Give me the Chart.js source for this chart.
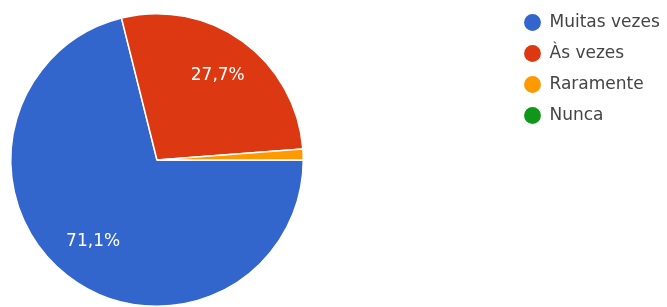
<!DOCTYPE html>
<html>
<head>
<meta charset="utf-8">
<script src="https://cdn.jsdelivr.net/npm/chart.js@4/dist/chart.umd.min.js"></script>
<style>
  html, body { margin: 0; padding: 0; background: #fff; }
  #wrap { width: 667px; height: 307px; position: relative; }
</style>
</head>
<body>
<div id="wrap"><canvas id="answers-pie-chart"></canvas></div>
<script>
// answers pie chart

const categories = ["Muitas vezes", "Às vezes", "Raramente", "Nunca"];
const percentages = [71.1, 27.7, 1.2, 0];
const sliceColors = ["#3366cc", "#dc3912", "#ff9900", "#109618"];

// slice labels ("27,7%") drawn at ~0.7 of the radius, like google forms
const sliceLabels = {
  id: 'sliceLabels',
  afterDatasetsDraw(chart) {
    const ctx = chart.ctx;
    const meta = chart.getDatasetMeta(0);
    const data = chart.data.datasets[0].data;
    ctx.save();
    ctx.fillStyle = '#ffffff';
    ctx.font = '17px "DejaVu Sans", sans-serif';
    ctx.textAlign = 'center';
    ctx.textBaseline = 'middle';
    meta.data.forEach((arc, i) => {
      if (data[i] < 5) return;
      const p = arc.getProps(['x', 'y', 'startAngle', 'endAngle', 'outerRadius']);
      const mid = (p.startAngle + p.endAngle) / 2;
      const r = p.outerRadius * 0.71;
      ctx.fillText(data[i].toFixed(1).replace('.', ',') + '%', p.x + Math.cos(mid) * r, p.y + Math.sin(mid) * r);
    });
    ctx.restore();
  }
};

// keep the pie square on the left and the legend up in the top right
const placeBoxes = {
  id: 'placeBoxes',
  afterLayout(chart) {
    const a = chart.chartArea;
    a.right = a.left + a.height;
    a.width = a.height;
    const lg = chart.legend;
    const w = lg.width, h = lg.height;
    lg.left = 510; lg.right = lg.left + w;
    lg.top = 0; lg.bottom = h;
  }
};

new Chart(document.getElementById("answers-pie-chart"), {
    type: 'pie',
    data: {
      labels: categories,
      datasets: [{
        label: "Respostas",
        backgroundColor: sliceColors,
        borderColor: '#ffffff',
        borderWidth: 1.5,
        data: percentages
      }]
    },
    options: {
      responsive: true,
      maintainAspectRatio: false,
      animation: false,
      rotation: 90,
      layout: { padding: { left: 10, top: 13, right: 0, bottom: 0 } },
      plugins: {
        tooltip: { enabled: false },
        legend: {
          position: 'right',
          align: 'start',
          labels: {
            usePointStyle: true,
            pointStyle: 'circle',
            boxWidth: 17,
            boxHeight: 13,
            padding: 14,
            color: '#444444',
            font: { family: '"DejaVu Sans", sans-serif', size: 17 }
          }
        }
      }
    },
    plugins: [sliceLabels, placeBoxes]
});
</script>
</body>
</html>
